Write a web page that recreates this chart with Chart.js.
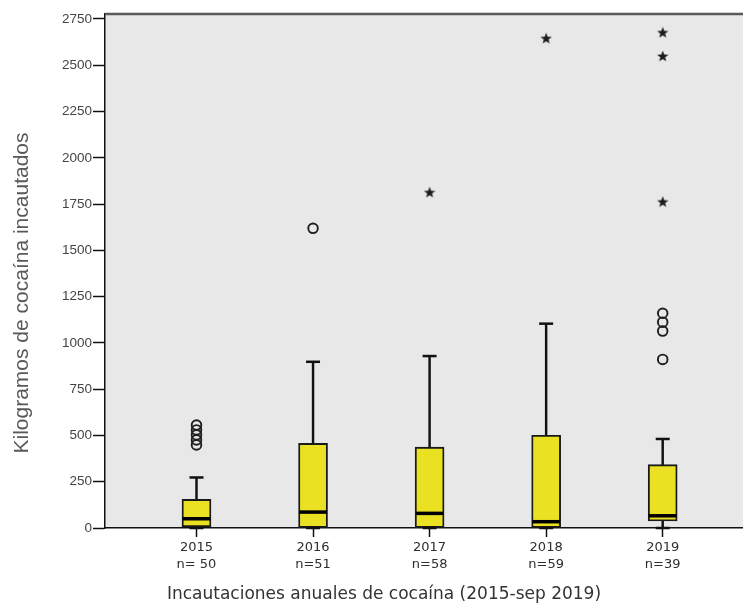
<!DOCTYPE html>
<html>
<head>
<meta charset="utf-8">
<script src="https://cdn.jsdelivr.net/npm/chart.js@4/dist/chart.umd.min.js"></script>
<style>
  html, body { margin: 0; padding: 0; background: #ffffff; }
  #wrap { width: 743px; height: 608px; }
</style>
</head>
<body>
<div id="wrap"><canvas id="c" width="743" height="608" style="width:743px;height:608px"></canvas></div>
<script>
// Annual cocaine seizures (kg), box-and-whisker summary per year
const years = ['2015', '2016', '2017', '2018', '2019'];
const counts = ['n= 50', 'n=51', 'n=58', 'n=59', 'n=39'];
const whiskerLow = [0, 0, 0, 0, 0];
const q1 = [6, 2, 2, 2, 38];
const medians = [50, 86, 79, 34, 66];
const q3 = [155, 457, 437, 501, 342];
const whiskerHigh = [273, 898, 929, 1104, 481];
// Outliers (circles) and extreme values (stars) per year
const outliers = [[556, 530, 503, 476, 449], [1619], [], [], [1160, 1112, 1064, 911]];
const extremes = [[], [], [1814], [2646], [2678, 2550, 1763]];
const yTicks = [0, 250, 500, 750, 1000, 1250, 1500, 1750, 2000, 2250, 2500, 2750];

const yTitle = 'Kilogramos de cocaína incautados';
const xTitle = 'Incautaciones anuales de cocaína (2015-sep 2019)';

// small filled five-point star used as a point style
function makeStar() {
  const c = document.createElement('canvas');
  c.width = 12; c.height = 12;
  const g = c.getContext('2d');
  g.fillStyle = '#1c1c1c';
  g.beginPath();
  for (let k = 0; k < 10; k++) {
    const r = k % 2 === 0 ? 6 : 2.5;
    const a = -Math.PI / 2 + k * Math.PI / 5;
    const px = 6 + r * Math.cos(a), py = 6.5 + r * Math.sin(a);
    if (k === 0) g.moveTo(px, py); else g.lineTo(px, py);
  }
  g.closePath();
  g.fill();
  return c;
}
const starStyle = makeStar();

const pos = years.map((_, i) => i + 1);
const pts = (vals) => vals.map((v, i) => ({ x: pos[i], y: v }));
const flat = (groups) => groups.flatMap((arr, i) => arr.map(v => ({ x: pos[i], y: v })));

const plotFrame = {
  id: 'plotFrame',
  beforeDraw(chart) {
    const { ctx, chartArea: a } = chart;
    ctx.save();
    ctx.fillStyle = '#ffffff';
    ctx.fillRect(0, 0, chart.width, chart.height);
    ctx.fillStyle = '#e8e8e8';
    ctx.fillRect(a.left, a.top, a.right - a.left, a.bottom - a.top);
    ctx.restore();
  },
  afterDraw(chart) {
    const { ctx, chartArea: a } = chart;
    ctx.save();
    ctx.strokeStyle = '#5a5a5a';
    ctx.lineWidth = 2.5;
    ctx.beginPath();
    ctx.moveTo(a.left, a.top);
    ctx.lineTo(a.right, a.top);
    ctx.stroke();

    ctx.fillStyle = '#595959';
    ctx.font = '21px "Liberation Sans", Arial, sans-serif';
    ctx.textAlign = 'center';
    ctx.textBaseline = 'middle';
    ctx.translate(22, 293);
    ctx.rotate(-Math.PI / 2);
    ctx.fillText(yTitle, 0, 0);
    ctx.restore();

    ctx.save();
    ctx.fillStyle = '#333333';
    ctx.font = '17px "DejaVu Sans", Verdana, sans-serif';
    ctx.textAlign = 'center';
    ctx.textBaseline = 'middle';
    ctx.fillText(xTitle, 384, 595);
    ctx.restore();
  }
};

new Chart(document.getElementById('c'), {
  type: 'bar',
  data: {
    datasets: [
      {
        type: 'scatter', label: 'extremos', order: 0, clip: false,
        data: flat(extremes), pointStyle: starStyle, radius: 6
      },
      {
        type: 'scatter', label: 'atípicos', order: 1, clip: false,
        data: flat(outliers), pointStyle: 'circle', radius: 4.8,
        borderColor: '#1e1e1e', borderWidth: 1.9, backgroundColor: 'rgba(0,0,0,0)'
      },
      {
        type: 'scatter', label: 'mediana', order: 2, clip: false,
        data: pts(medians), pointStyle: 'line', radius: 13.8,
        borderColor: '#000000', borderWidth: 3.5
      },
      {
        type: 'scatter', label: 'extremo superior', order: 3, clip: false,
        data: pts(whiskerHigh).concat(pts(whiskerLow)), pointStyle: 'line', radius: 7,
        borderColor: '#111111', borderWidth: 2.5
      },
      {
        type: 'bar', label: 'caja', order: 4, grouped: false,
        data: pos.map((x, i) => ({ x, y: [q1[i], q3[i]] })),
        backgroundColor: '#e9e121', borderColor: '#1a1a1a', borderWidth: 1.9,
        borderSkipped: false, barThickness: 29
      },
      {
        type: 'bar', label: 'bigote', order: 5, grouped: false,
        data: pos.map((x, i) => ({ x, y: [whiskerLow[i], whiskerHigh[i]] })),
        backgroundColor: '#111111', borderWidth: 0, barThickness: 1.8
      }
    ]
  },
  options: {
    responsive: false,
    animation: false,
    devicePixelRatio: 1,
    layout: { autoPadding: false, padding: { top: 14, left: 0, right: 0, bottom: 0 } },
    plugins: { legend: { display: false }, tooltip: { enabled: false } },
    scales: {
      x: {
        type: 'linear', min: 0.215, max: 5.689, offset: false,
        afterBuildTicks(s) { s.ticks = pos.map(v => ({ value: v })); },
        afterFit(s) { s.height = 80; s.paddingLeft = 0; s.paddingRight = 0; },
        ticks: {
          callback: (v) => [years[v - 1], counts[v - 1]],
          font: { family: 'DejaVu Sans', size: 13, lineHeight: 1.3 },
          color: '#2e2e2e', padding: 2, maxRotation: 0, autoSkip: false
        },
        grid: { offset: false, drawOnChartArea: false, drawTicks: true, tickLength: 9, tickColor: '#111111', tickWidth: 1.5 },
        border: { display: true, color: '#111111', width: 1.5 }
      },
      y: {
        type: 'linear', min: 0, max: 2777,
        afterBuildTicks(s) { s.ticks = yTicks.map(v => ({ value: v })); },
        afterFit(s) { s.width = 105; s.paddingTop = 0; s.paddingBottom = 0; },
        ticks: {
          callback: (v) => String(v),
          font: { family: 'Liberation Sans', size: 13.5 },
          color: '#444444', padding: 1
        },
        grid: { drawOnChartArea: false, drawTicks: true, tickLength: 12, tickColor: '#111111', tickWidth: 1.5 },
        border: { display: true, color: '#111111', width: 1.5 }
      }
    }
  },
  plugins: [plotFrame]
});
</script>
</body>
</html>
